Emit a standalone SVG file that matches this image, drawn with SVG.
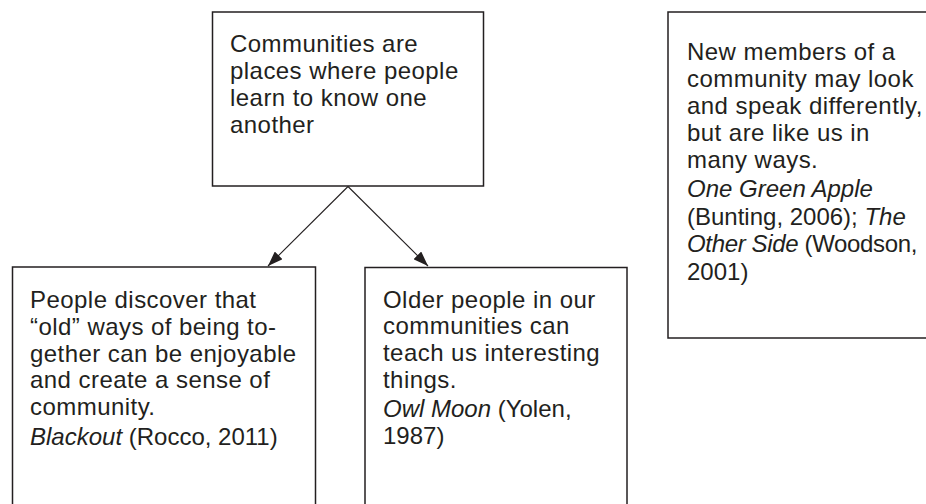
<svg xmlns="http://www.w3.org/2000/svg" width="926" height="504" viewBox="0 0 926 504">
<style>
.box{fill:#fff;stroke:#231f20;stroke-width:1.5}
.t{font-family:"Liberation Sans",Arial,sans-serif;font-size:24px;letter-spacing:0.45px;fill:#231f20}
.c{letter-spacing:0}
.i{font-style:italic}
.con{stroke:#231f20;stroke-width:1.1;fill:none}
</style>
<defs>
<marker id="ah" viewBox="0 0 15 11" refX="15" refY="5.5" markerWidth="15" markerHeight="11" markerUnits="userSpaceOnUse" orient="auto">
<path d="M0,0 L15,5.5 L0,11 Z" fill="#231f20"/>
</marker>
</defs>
<rect width="926" height="504" fill="#fff"/>
<g id="n-top">
<rect class="box" x="212.5" y="12" width="271" height="174"/>
<text class="t"><tspan x="230" y="52">Communities are</tspan><tspan x="230" y="79">places where people</tspan><tspan x="230" y="106">learn to know one</tspan><tspan x="230" y="133">another</tspan></text>
</g>
<g id="n-right">
<rect class="box" x="668" y="12" width="280" height="326"/>
<text class="t"><tspan x="687" y="60">New members of a</tspan><tspan x="687" y="87">community may look</tspan><tspan x="687" y="114">and speak differently,</tspan><tspan x="687" y="141">but are like us in</tspan><tspan x="687" y="168">many ways.</tspan></text>
<text class="t c"><tspan x="687" y="197" class="i">One Green Apple</tspan><tspan x="687" y="224.5">(Bunting, 2006); <tspan class="i">The</tspan></tspan><tspan x="687" y="252" class="i" style="letter-spacing:-0.35px">Other Side<tspan font-style="normal"> (Woodson,</tspan></tspan><tspan x="687" y="279.5">2001)</tspan></text>
</g>
<g id="n-left">
<rect class="box" x="12.5" y="267" width="303" height="260"/>
<text class="t"><tspan x="30" y="308.3">People discover that</tspan><tspan x="30" y="335">“old” ways of being to-</tspan><tspan x="30" y="361.7">gether can be enjoyable</tspan><tspan x="30" y="388.3">and create a sense of</tspan><tspan x="30" y="415">community.</tspan></text>
<text class="t c"><tspan x="30" y="445" class="i">Blackout</tspan><tspan> (Rocco, 2011)</tspan></text>
</g>
<g id="n-mid">
<rect class="box" x="365" y="267.5" width="262" height="260"/>
<text class="t"><tspan x="383" y="307.7">Older people in our</tspan><tspan x="383" y="334.3">communities can</tspan><tspan x="383" y="361">teach us interesting</tspan><tspan x="383" y="387.7">things.</tspan></text>
<text class="t c"><tspan x="383" y="416.7" class="i">Owl Moon</tspan><tspan> (Yolen,</tspan><tspan x="383" y="444">1987)</tspan></text>
</g>
<g id="connectors">
<line class="con" x1="348" y1="186.5" x2="268" y2="266" marker-end="url(#ah)"/>
<line class="con" x1="348" y1="186.5" x2="428" y2="266" marker-end="url(#ah)"/>
</g>
</svg>
